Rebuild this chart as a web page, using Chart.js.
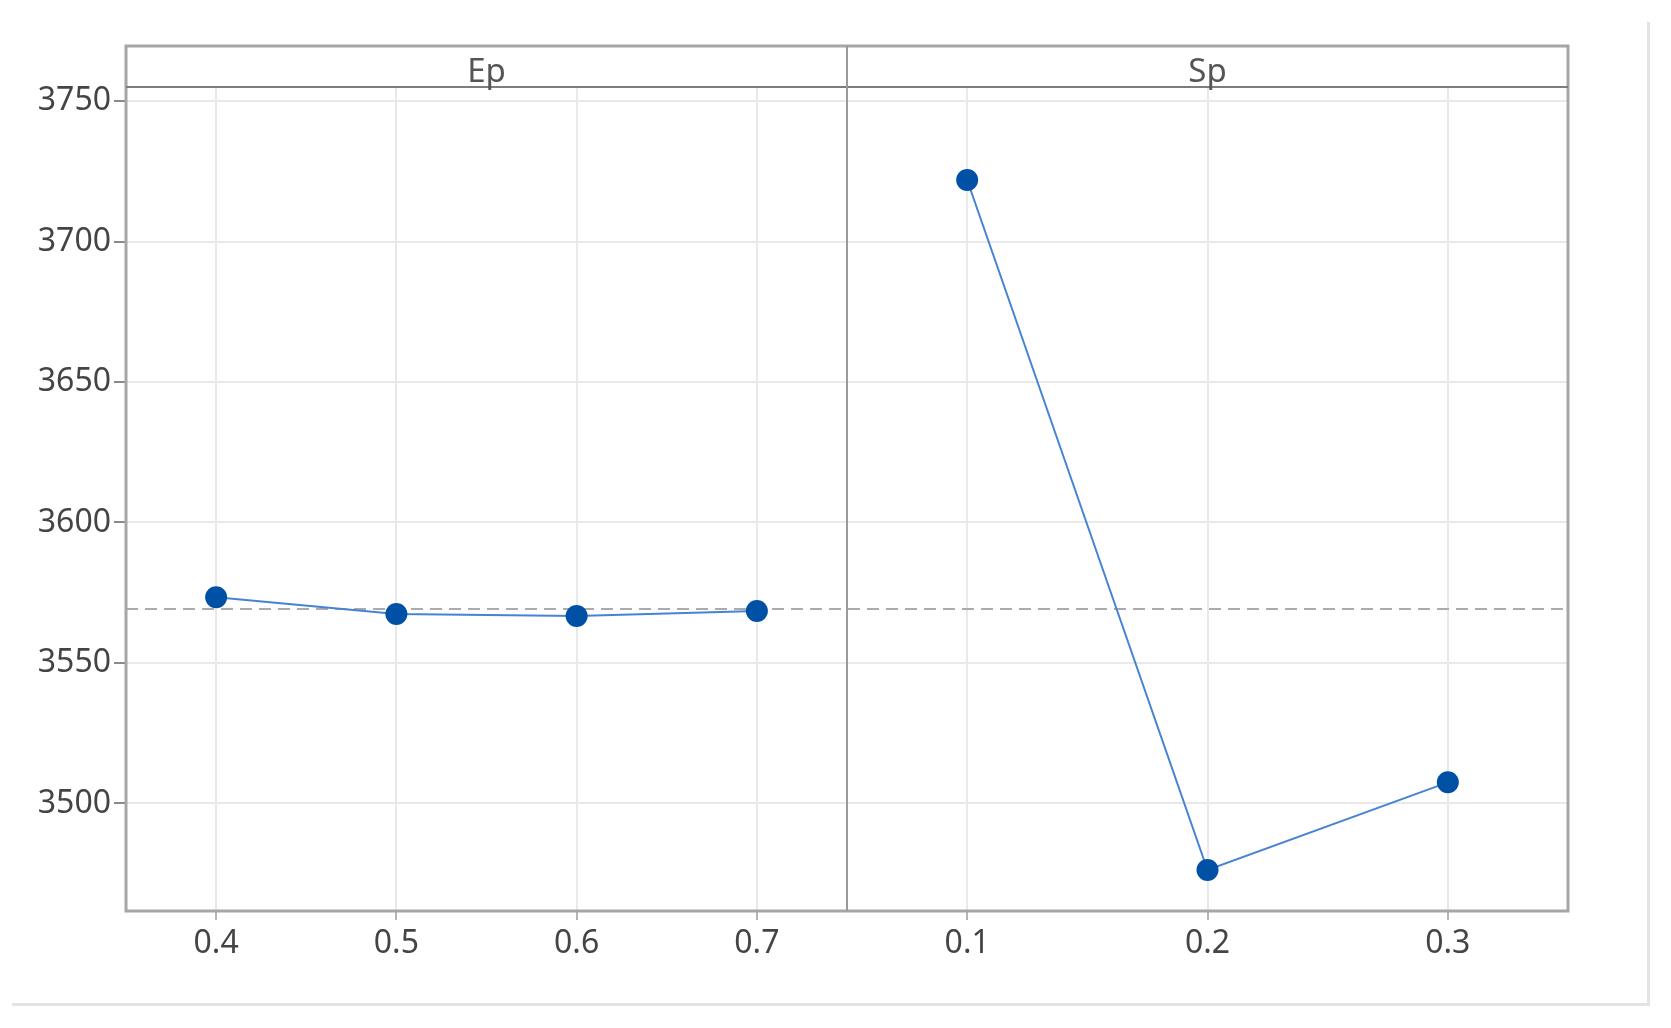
<!DOCTYPE html>
<html>
<head>
<meta charset="utf-8">
<script src="https://cdn.jsdelivr.net/npm/chart.js@4.4.1/dist/chart.umd.min.js"></script>
<style>
  html, body { margin: 0; padding: 0; background: #fff; }
  #wrap { position: relative; width: 1671px; height: 1028px; }
  #marco { position: absolute; left: 12px; top: 22px; width: 1635px; height: 981px;
           border-right: 3px solid #e3e3e3; border-bottom: 3px solid #e3e3e3; box-sizing: content-box; }
  canvas { position: absolute; left: 0; top: 0; }
</style>
</head>
<body>
<div id="wrap">
  <div id="marco"></div>
  <canvas id="grafico" width="1671" height="1028"></canvas>
</div>
<script>
// Niveles de cada factor y medias
const nivelesEp = ['0.4', '0.5', '0.6', '0.7'];
const mediasEp = [3573.4, 3567.4, 3566.7, 3568.5];
const nivelesSp = ['0.1', '0.2', '0.3'];
const mediasSp = [3721.9, 3476.3, 3507.5];
const mediaGlobal = 3569.2;
const ticksY = [3500, 3550, 3600, 3650, 3700, 3750];
const paneles = ['Ep', 'Sp'];

const fuente = 'Noto Sans';
const colorTexto = '#444';

// Marco, tira de títulos y línea de la media
const panelPlugin = {
  id: 'paneles',
  beforeDatasetsDraw(chart) {
    const { ctx, chartArea, scales } = chart;
    const yMedia = scales.y.getPixelForValue(mediaGlobal);
    ctx.save();
    ctx.strokeStyle = '#ababab';
    ctx.lineWidth = 2;
    ctx.setLineDash([12, 7]);
    ctx.beginPath();
    ctx.moveTo(chartArea.left, yMedia);
    ctx.lineTo(chartArea.right, yMedia);
    ctx.stroke();
    ctx.restore();
  },
  afterDraw(chart) {
    const { ctx, chartArea, scales } = chart;
    const arriba = chartArea.top - 41;
    ctx.save();
    // marco exterior
    ctx.strokeStyle = '#a6a6a6';
    ctx.lineWidth = 3;
    ctx.strokeRect(chartArea.left, arriba, chartArea.right - chartArea.left, chartArea.bottom - arriba);
    // línea inferior de la tira
    ctx.strokeStyle = '#7d7d7d';
    ctx.lineWidth = 2;
    ctx.beginPath();
    ctx.moveTo(chartArea.left, chartArea.top);
    ctx.lineTo(chartArea.right, chartArea.top);
    ctx.stroke();
    // separador entre paneles
    const sep = scales.xEp.right;
    ctx.strokeStyle = '#9a9a9a';
    ctx.beginPath();
    ctx.moveTo(sep, arriba);
    ctx.lineTo(sep, chartArea.bottom);
    ctx.stroke();
    // títulos de la tira
    ctx.fillStyle = '#555';
    ctx.font = '33px "' + fuente + '"';
    ctx.textAlign = 'center';
    ctx.textBaseline = 'alphabetic';
    [scales.xEp, scales.xSp].forEach((s, i) => {
      ctx.fillText(paneles[i], (s.left + s.right) / 2, chartArea.top - 5);
    });
    ctx.restore();
  }
};

const ejeX = (niveles) => ({
  type: 'category',
  labels: niveles,
  position: 'bottom',
  stack: 'x',
  stackWeight: 1,
  offset: true,
  grid: { color: '#e9e9e9', lineWidth: 2, offset: false, tickLength: 9, tickColor: '#b5b5b5' },
  border: { display: false },
  ticks: { color: colorTexto, font: { family: fuente, size: 32 }, padding: 5, maxRotation: 0 },
  afterFit: s => { s.height = 60; }
});

const serie = (medias, eje) => ({
  data: medias,
  xAxisID: eje,
  borderColor: '#4584d2',
  borderWidth: 2,
  pointRadius: 11,
  pointBackgroundColor: '#0051a6',
  pointBorderColor: '#0051a6',
  pointBorderWidth: 0,
  tension: 0
});

new Chart(document.getElementById('grafico'), {
  type: 'line',
  data: {
    datasets: [serie(mediasEp, 'xEp'), serie(mediasSp, 'xSp')]
  },
  options: {
    responsive: false,
    animation: false,
    layout: { padding: { top: 87, right: 103, bottom: 57, left: 0 } },
    plugins: { legend: { display: false }, tooltip: { enabled: false } },
    scales: {
      xEp: ejeX(nivelesEp),
      xSp: ejeX(nivelesSp),
      y: {
        type: 'linear',
        min: 3461.7,
        max: 3755,
        grid: { color: '#e9e9e9', lineWidth: 2, tickLength: 12, tickColor: '#8a8a8a' },
        border: { display: false },
        ticks: {
          color: colorTexto,
          font: { family: fuente, size: 32 },
          padding: 3,
          includeBounds: false,
          callback: v => String(v)
        },
        afterBuildTicks: s => { s.ticks = ticksY.map(v => ({ value: v })); },
        afterFit: s => { s.width = 126; }
      }
    }
  },
  plugins: [panelPlugin]
});
</script>
</body>
</html>
